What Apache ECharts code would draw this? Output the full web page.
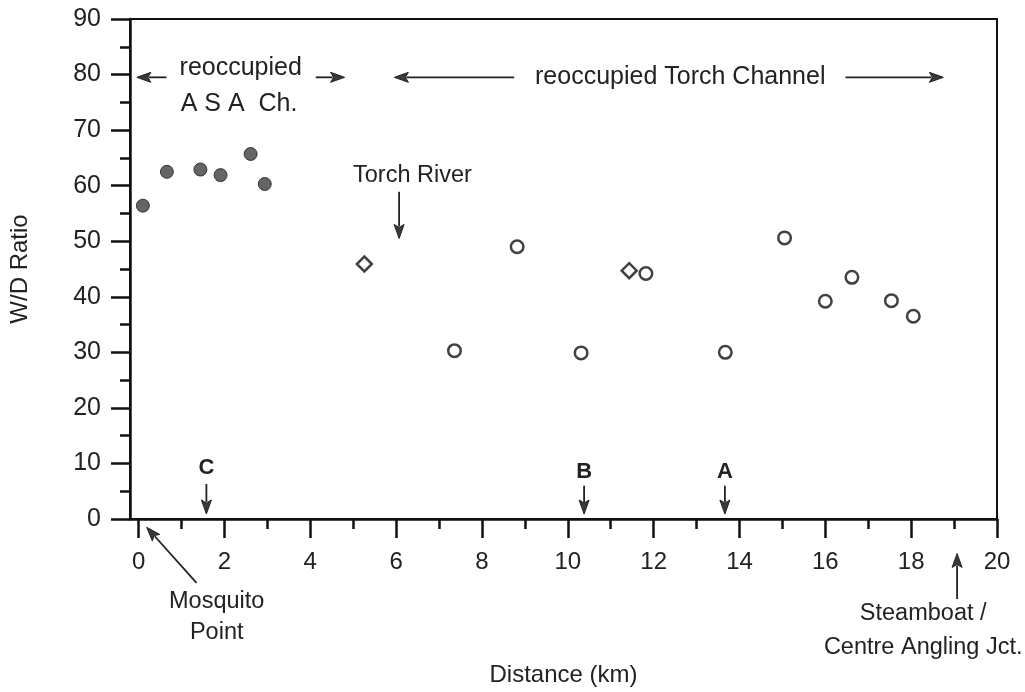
<!DOCTYPE html>
<html>
<head>
<meta charset="utf-8">
<script src="https://cdn.jsdelivr.net/npm/echarts@6/dist/echarts.min.js"></script>
<style>html,body{margin:0;padding:0;background:#fff}#c{width:1025px;height:692px}</style>
</head>
<body>
<div id="c"></div>
<script>
// ---- data ----
const asaX = [0.1, 0.66, 1.44, 1.91, 2.61, 2.94];
const asaY = [56.4, 62.5, 62.9, 61.9, 65.7, 60.3];
const torchX = [7.36, 8.82, 10.31, 11.82, 13.67, 15.05, 16.0, 16.62, 17.54, 18.05];
const torchY = [30.3, 49.0, 29.9, 44.2, 30.0, 50.6, 39.2, 43.5, 39.3, 36.5];
const diamondX = [5.26, 11.43];
const diamondY = [45.9, 44.7];
const xMajorTicks = [0, 2, 4, 6, 8, 10, 12, 14, 16, 18, 20];
const xMinorTicks = [1, 3, 5, 7, 9, 11, 13, 15, 17, 19];
const yMinorTicks = [5, 15, 25, 35, 45, 55, 65, 75, 85];
const xTitle = 'Distance (km)';
const yTitle = 'W/D Ratio';
// annotation arrows in data units: [x1, y1, x2, y2] tail -> head
const arrowDefs = [
  [0.65, 79.5, -0.04, 79.5],
  [4.13, 79.5, 4.80, 79.5],
  [8.75, 79.5, 5.96, 79.5],
  [16.47, 79.5, 18.75, 79.5],
  [6.07, 58.9, 6.07, 50.5],
  [1.58, 6.3, 1.58, 0.9],
  [10.38, 6.0, 10.38, 0.9],
  [13.66, 6.0, 13.66, 0.9],
  [1.35, -11.5, 0.19, -1.5],
  [19.07, -14.4, 19.07, -6.2]
];
// annotation texts: [label, x, y, bold, size]
const textDefs = [
  ['reoccupied', 2.38, 81.1, false, 25],
  ['A S A  Ch.', 2.34, 74.7, false, 25],
  ['reoccupied Torch Channel', 12.62, 79.6, false, 25],
  ['Torch River', 6.38, 61.9, false, 23.5],
  ['C', 1.58, 9.2, true, 22],
  ['B', 10.38, 8.5, true, 22],
  ['A', 13.66, 8.5, true, 22],
  ['Mosquito', 1.82, -14.8, false, 23.5],
  ['Point', 1.82, -20.4, false, 23.5],
  ['Steamboat /', 18.28, -17.1, false, 23.5],
  ['Centre Angling Jct.', 18.28, -23.1, false, 23.5]
];

const FONT = 'Liberation Sans, Arial, Helvetica, sans-serif';
const chart = echarts.init(document.getElementById('c'), null, {renderer: 'canvas'});
const zip = (a, b) => a.map((v, i) => [v, b[i]]);

chart.setOption({
  animation: false,
  backgroundColor: '#fff',
  grid: {left: 127, top: 19, right: 28, bottom: 165, show: true, borderColor: '#111', borderWidth: 2, backgroundColor: 'transparent'},
  xAxis: [
    {
      type: 'value', min: -0.2, max: 20, position: 'bottom',
      name: xTitle, nameLocation: 'middle', nameGap: 144,
      nameTextStyle: {fontFamily: FONT, fontSize: 24, color: '#222'},
      axisLine: {show: true, onZero: false, lineStyle: {color: '#111', width: 2.5}},
      axisTick: {show: true, customValues: xMajorTicks, length: 19, lineStyle: {color: '#111', width: 2.5}},
      axisLabel: {show: true, customValues: xMajorTicks, margin: 31, fontFamily: FONT, fontSize: 24, color: '#222'},
      splitLine: {show: false}
    },
    {
      type: 'value', min: -0.2, max: 20, position: 'bottom',
      axisLine: {show: false, onZero: false},
      axisTick: {show: true, customValues: xMinorTicks, length: 10, lineStyle: {color: '#111', width: 2.5}},
      axisLabel: {show: false},
      splitLine: {show: false}
    }
  ],
  yAxis: [
    {
      type: 'value', min: 0, max: 90, interval: 10, position: 'left',
      name: yTitle, nameLocation: 'middle', nameGap: 98, nameRotate: 90,
      nameTextStyle: {fontFamily: FONT, fontSize: 24, color: '#222'},
      axisLine: {show: true, onZero: false, lineStyle: {color: '#111', width: 2.5}},
      axisTick: {show: true, length: 19, lineStyle: {color: '#111', width: 2.5}},
      axisLabel: {show: true, margin: 29, fontFamily: FONT, fontSize: 25, color: '#222'},
      splitLine: {show: false}
    },
    {
      type: 'value', min: 0, max: 90, position: 'left',
      axisLine: {show: false, onZero: false},
      axisTick: {show: true, customValues: yMinorTicks, length: 10, lineStyle: {color: '#111', width: 2.5}},
      axisLabel: {show: false},
      splitLine: {show: false}
    }
  ],
  series: [
    {
      type: 'scatter', name: 'reoccupied ASA channel', data: zip(asaX, asaY),
      symbol: 'circle', symbolSize: 13,
      itemStyle: {color: '#3f3f3f', borderColor: '#1a1a1a', borderWidth: 1}
    },
    {
      type: 'scatter', name: 'reoccupied Torch channel', data: zip(torchX, torchY),
      symbol: 'circle', symbolSize: 12.5,
      itemStyle: {color: '#fff', borderColor: '#111', borderWidth: 2.5}
    },
    {
      type: 'scatter', name: 'diamond', data: zip(diamondX, diamondY),
      symbol: 'diamond', symbolSize: [15, 15],
      itemStyle: {color: '#fff', borderColor: '#111', borderWidth: 2.5}
    }
  ]
});

function buildGraphics() {
  const g = [];
  const px = (x, y) => chart.convertToPixel({gridIndex: 0}, [x, y]);
  arrowDefs.forEach(a => {
    const p1 = px(a[0], a[1]);
    const p2 = px(a[2], a[3]);
    const dx = p2[0] - p1[0], dy = p2[1] - p1[1];
    const len = Math.sqrt(dx * dx + dy * dy);
    const ux = dx / len, uy = dy / len;
    const hl = 14, hw = 5;
    const bx = p2[0] - ux * hl, by = p2[1] - uy * hl;
    g.push({type: 'line', silent: true, shape: {x1: p1[0], y1: p1[1], x2: bx + ux * 2, y2: by + uy * 2},
      style: {stroke: '#222', lineWidth: 1.8}});
    g.push({type: 'polygon', silent: true,
      shape: {points: [[p2[0], p2[1]], [bx - uy * hw, by + ux * hw], [bx + ux * 3, by + uy * 3], [bx + uy * hw, by - ux * hw]]},
      style: {fill: '#3a3a3a', stroke: '#222', lineWidth: 1}});
  });
  textDefs.forEach(t => {
    const p = px(t[1], t[2]);
    g.push({type: 'text', silent: true, x: p[0], y: p[1],
      style: {text: t[0], fill: '#222', font: (t[3] ? 'bold ' : '') + t[4] + 'px ' + FONT, align: 'center', verticalAlign: 'middle'}});
  });
  chart.setOption({graphic: g});
}
buildGraphics();
</script>
</body>
</html>
